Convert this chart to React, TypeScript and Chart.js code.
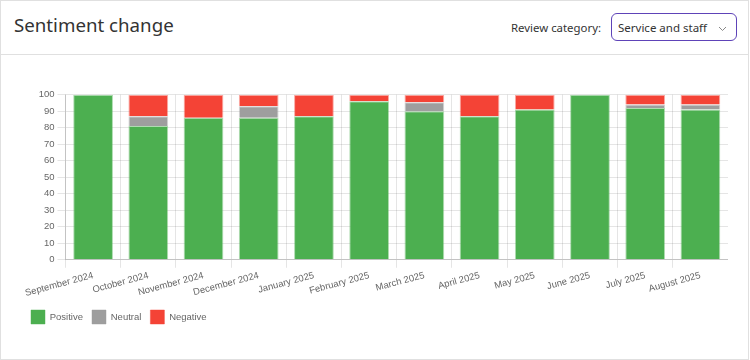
import React, { useEffect, useRef } from 'react';
import { Chart, registerables } from 'chart.js';

Chart.register(...registerables);

const categories = [
  'September 2024', 'October 2024', 'November 2024', 'December 2024',
  'January 2025', 'February 2025', 'March 2025', 'April 2025',
  'May 2025', 'June 2025', 'July 2025', 'August 2025',
];
const positive = [100, 81, 86, 86, 87, 96, 90, 87, 91, 100, 92, 91];
const neutral = [0, 6, 0, 7, 0, 0, 5.5, 0, 0, 0, 2, 3];
const negative = [0, 13, 14, 7, 13, 4, 4.5, 13, 9, 0, 6, 6];
const seriesNames = ['Positive', 'Neutral', 'Negative'];

const chartFont = "'Liberation Sans', Arial, sans-serif";
const uiFont = "'Noto Sans', 'Open Sans', sans-serif";

export default function App() {
  const ref = useRef<HTMLCanvasElement>(null);
  useEffect(() => {
    document.body.style.margin = '0';
    const chart = new Chart(ref.current!, {
      type: 'bar',
      data: {
        labels: categories,
        datasets: [
          { label: seriesNames[0], data: positive, backgroundColor: '#4CAF50', borderColor: 'rgba(76,175,80,0.45)', borderWidth: 1 },
          { label: seriesNames[1], data: neutral, backgroundColor: '#9E9E9E', borderColor: 'rgba(158,158,158,0.45)', borderWidth: 1 },
          { label: seriesNames[2], data: negative, backgroundColor: '#F44336', borderColor: 'rgba(244,67,54,0.45)', borderWidth: 1 },
        ],
      },
      options: {
        animation: false,
        responsive: true,
        maintainAspectRatio: false,
        plugins: {
          legend: {
            position: 'bottom',
            align: 'start',
            labels: { boxWidth: 14, boxHeight: 14, padding: 9, color: '#666', font: { family: chartFont, size: 9.5 } },
          },
          tooltip: { enabled: false },
        },
        scales: {
          x: {
            stacked: true,
            grid: { color: 'rgba(0,0,0,0.1)' },
            border: { color: 'rgba(0,0,0,0.15)' },
            ticks: { color: '#666', padding: 2, minRotation: 15, maxRotation: 15, autoSkip: false, font: { family: chartFont, size: 9.5 } },
          },
          y: {
            stacked: true,
            min: 0,
            max: 100,
            grid: { color: 'rgba(0,0,0,0.1)' },
            border: { color: 'rgba(0,0,0,0.15)' },
            ticks: { stepSize: 10, color: '#666', font: { family: chartFont, size: 9.5 } },
          },
        },
      },
    });
    return () => chart.destroy();
  }, []);

  return (
    <div style={{ position: 'absolute', left: 0, top: 0, width: 749, height: 360, background: '#fff', boxShadow: 'inset 0 0 0 1px #e0e0e0', fontFamily: uiFont }}>
      <div style={{ position: 'absolute', left: 0, top: 54, width: 749, height: 1, background: '#e0e0e0' }} />
      <div style={{ position: 'absolute', left: 14, top: 11, fontSize: 18.7, lineHeight: '28px', color: '#333', whiteSpace: 'nowrap' }}>Sentiment change</div>
      <div style={{ position: 'absolute', right: 148, top: 15, fontSize: 11.4, lineHeight: '26px', color: '#333', whiteSpace: 'nowrap' }}>Review category:</div>
      <div style={{ position: 'absolute', left: 611, top: 13, width: 126, height: 28, boxSizing: 'border-box', border: '1px solid #5e43b8', borderRadius: 6, background: '#fff' }}>
        <div style={{ position: 'absolute', left: 6, top: 1, fontSize: 11.5, lineHeight: '26px', color: '#333', whiteSpace: 'nowrap' }}>Service and staff</div>
        <svg style={{ position: 'absolute', left: 106, top: 12 }} width="9" height="6" viewBox="0 0 9 6">
          <polyline points="1,1 4.5,4.5 8,1" fill="none" stroke="#888" strokeWidth="1" />
        </svg>
      </div>
      <div style={{ position: 'absolute', left: 22, top: 86, width: 706, height: 248 }}>
        <canvas ref={ref} />
      </div>
    </div>
  );
}
